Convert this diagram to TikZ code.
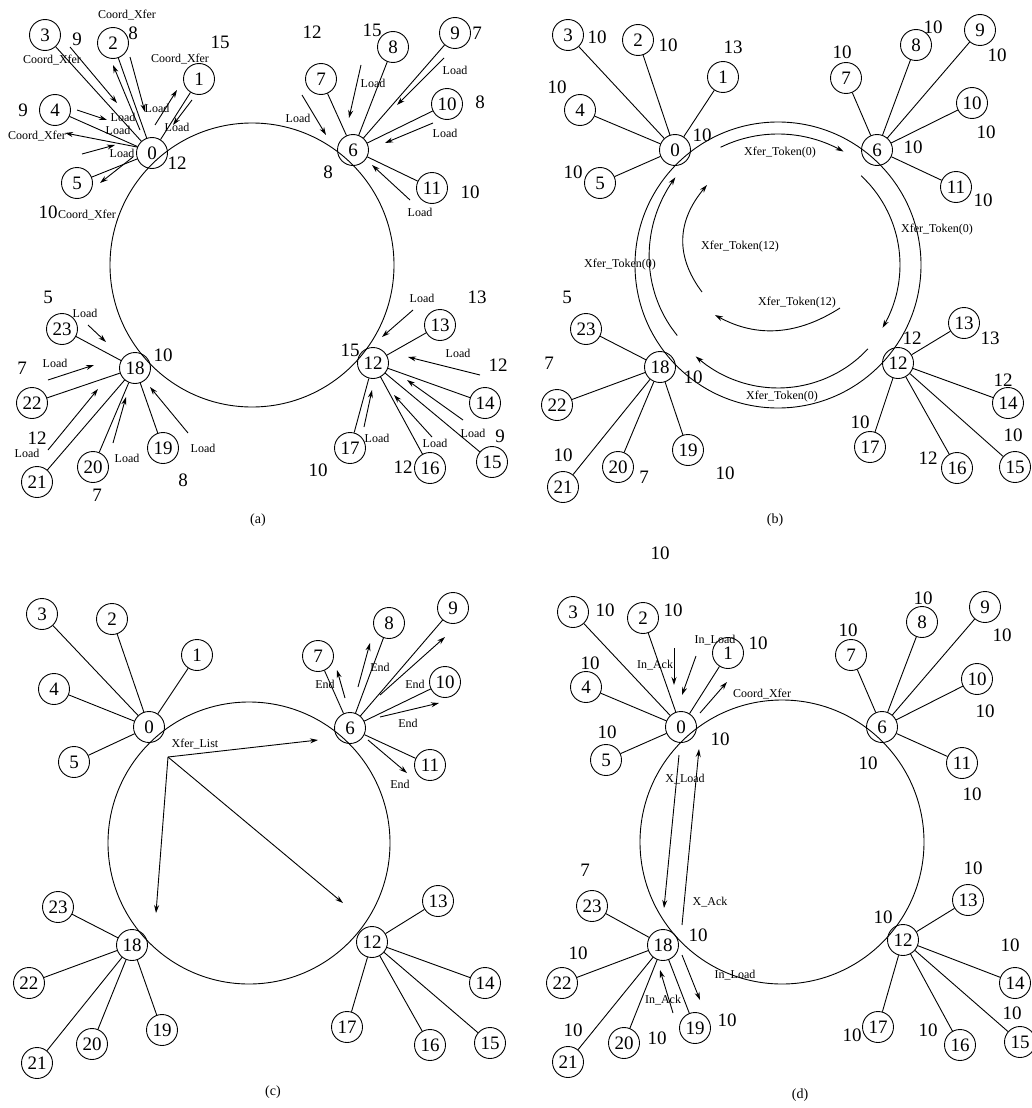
\documentclass[tikz,border=0pt]{standalone}
\usepackage{fontspec}
\setmainfont{Liberation Serif}
\usetikzlibrary{arrows.meta}
\newcommand\fsBig{\fontsize{19}{19}\selectfont}
\newcommand\fsSmall{\fontsize{12}{12}\selectfont}
\newcommand\fsCap{\fontsize{14}{14}\selectfont}
\newcommand\spokes[1]{%
 \foreach \s in {1,...,5}{\draw (#10) -- (#1\s);}%
 \foreach \s in {7,...,11}{\draw (#16) -- (#1\s);}%
 \foreach \s in {13,...,17}{\draw (#112) -- (#1\s);}%
 \foreach \s in {19,...,23}{\draw (#118) -- (#1\s);}}
\newcommand\msg[3]{\coordinate (#1s) at (#2); \coordinate (#1e) at (#3); \draw[msg] (#1s) -- (#1e);}
\begin{document}
\begin{tikzpicture}[x=1pt,y=-1pt,line width=0.9pt,
 pn/.style={circle,draw,minimum size=31pt,inner sep=0pt,font=\fsBig},
 num/.style={inner sep=0pt,font=\fsBig},
 lbl/.style={inner sep=0pt,font=\fsSmall},
 captxt/.style={inner sep=0pt,font=\fsCap},
 msg/.style={-{Stealth[length=8pt,width=5pt]}}]
\useasboundingbox (0,0) rectangle (1032,1108);

% ---------------- rings
\draw (252,265) circle[radius=142];
\draw (778,265) circle[radius=143];
\draw (249,843) circle[radius=141];
\draw (782,842) circle[radius=142];

% ---------------- nodes
\foreach \n/\x/\y in {0/152/153, 1/199/79, 2/113/43, 3/45/35, 4/55/110, 5/77/183, 6/353/150, 7/321/79, 8/393/47, 9/455/33, 10/447/104, 11/432/188, 12/373/363, 13/440/325, 14/485/403, 15/492/462, 16/430/468, 17/350/448, 18/135/368, 19/163/448, 20/93/467, 21/37/482, 22/32/403, 23/62/329}
  \node[pn] (a\n) at (\x,\y) {\n};
\foreach \n/\x/\y in {0/675/150, 1/723/77, 2/638/40, 3/568/35, 4/580/110, 5/600/183, 6/877/150, 7/846/78, 8/916/45, 9/980/30, 10/972/103, 11/956/187, 12/898/363, 13/964/323, 14/1008/403, 15/1015/467, 16/957/468, 17/870/447, 18/660/367, 19/688/450, 20/618/467, 21/563/487, 22/557/405, 23/586/329}
  \node[pn] (b\n) at (\x,\y) {\n};
\foreach \n/\x/\y in {0/149/727, 1/197/655, 2/112/619, 3/42/614, 4/54/689, 5/74/762, 6/350/728, 7/318/656, 8/389/623, 9/453/608, 10/445/682, 11/430/765, 12/372/942, 13/438/901, 14/485/983, 15/490/1043, 16/430/1045, 17/347/1027, 18/132/945, 19/162/1030, 20/92/1044, 21/37/1063, 22/29/983, 23/58/907}
  \node[pn] (c\n) at (\x,\y) {\n};
\foreach \n/\x/\y in {0/681/727, 1/728/653, 2/643/618, 3/573/612, 4/586/687, 5/606/760, 6/882/727, 7/851/655, 8/922/622, 9/985/607, 10/977/679, 11/962/763, 12/903/940, 13/968/900, 14/1015/983, 15/1020/1042, 16/960/1045, 17/878/1027, 18/663/945, 19/695/1028, 20/624/1043, 21/568/1062, 22/562/983, 23/592/906}
  \node[pn] (d\n) at (\x,\y) {\n};

\spokes{a}
\spokes{b}
\spokes{c}
\spokes{d}

% ---------------- big number labels
\foreach \x/\y/\t [count=\i] in {133/33/8, 77/39/9, 220/42/15, 23/110/9, 177/163/12, 48/212/10, 312/32/12, 372/30/15, 477/33/7, 480/102/8, 328/172/8, 470/192/10, 48/297/5, 163/355/10, 22/368/7, 37/438/12, 183/480/8, 97/495/7, 477/297/13, 350/350/15, 498/365/12, 500/436/9, 403/467/12, 318/470/10}
  \node[num] (an\i) at (\x,\y) {\t};
\foreach \x/\y/\t [count=\i] in {597/37/10, 668/45/10, 733/47/13, 557/87/10, 702/135/10, 573/172/10, 933/27/10, 842/52/10, 997/55/10, 986/132/10, 913/147/10, 983/200/10, 567/297/5, 549/363/7, 693/377/10, 563/455/10, 644/477/7, 725/473/10, 990/338/13, 912/338/12, 1003/380/12, 860/422/10, 1013/435/10, 928/458/12, 660/553/10}
  \node[num] (bn\i) at (\x,\y) {\t};
\foreach \x/\y/\t [count=\i] in {605/610/10, 673/610/10, 758/643/10, 590/663/10, 607/732/10, 720/739/10, 848/630/10, 923/598/10, 1002/635/10, 985/711/10, 868/763/10, 972/794/10, 585/870/7, 698/935/10, 578/953/10, 727/1020/10, 573/1030/10, 657/1038/10, 973/868/10, 883/917/10, 1010/945/10, 1012/1013/10, 852/1035/10, 928/1030/10}
  \node[num] (dn\i) at (\x,\y) {\t};

% ---------------- small labels
\foreach \x/\y/\t [count=\i] in {127/15/Coord\_Xfer, 52/60/Coord\_Xfer, 180/59/Coord\_Xfer, 37/136/Coord\_Xfer, 87/215/Coord\_Xfer, 123/117/Load, 157/108/Load, 177/127/Load, 118/130/Load, 122/153/Load, 373/83/Load, 455/70/Load, 298/118/Load, 445/133/Load, 420/212/Load, 85/313/Load, 55/363/Load, 27/453/Load, 127/458/Load, 203/448/Load, 422/298/Load, 458/353/Load, 473/433/Load, 377/438/Load, 435/443/Load}
  \node[lbl] (al\i) at (\x,\y) {\t};
\foreach \x/\y/\t [count=\i] in {780/153/Xfer\_Token(0), 937/230/Xfer\_Token(0), 782/397/Xfer\_Token(0), 620/265/Xfer\_Token(0), 740/247/Xfer\_Token(12), 797/303/Xfer\_Token(12)}
  \node[lbl] (bl\i) at (\x,\y) {\t};
\foreach \x/\y/\t [count=\i] in {325/684/End, 380/667/End, 415/684/End, 408/723/End, 400/784/End, 195/744/Xfer\_List}
  \node[lbl] (cl\i) at (\x,\y) {\t};
\foreach \x/\y/\t [count=\i] in {715/640/In\_Load, 655/665/In\_Ack, 762/694/Coord\_Xfer, 685/779/X\_Load, 710/902/X\_Ack, 735/975/In\_Load, 663/1000/In\_Ack}
  \node[lbl] (dl\i) at (\x,\y) {\t};

% ---------------- captions
\node[captxt] (capa) at (258,520) {(a)};
\node[captxt] (capb) at (775,520) {(b)};
\node[captxt] (capc) at (273,1092) {(c)};
\node[captxt] (capd) at (800,1095) {(d)};

% ---------------- message arrows panel (a)
\msg{am1}{70,47}{117,103}
\msg{am2}{140,130}{113,65}
\msg{am3}{130,57}{145,112}
\msg{am4}{155,125}{177,90}
\msg{am5}{192,100}{173,125}
\msg{am6}{77,110}{107,120}
\msg{am7}{137,147}{65,133}
\msg{am8}{82,154}{115,145}
\msg{am9}{133,157}{100,183}
\msg{am10}{302,95}{326,135}
\msg{am11}{361,65}{349,118}
\msg{am12}{444,58}{397,105}
\msg{am13}{433,123}{385,143}
\msg{am14}{410,200}{372,165}
\msg{am15}{88,325}{106,342}
\msg{am16}{48,380}{94,365}
\msg{am17}{48,450}{98,389}
\msg{am18}{113,443}{126,397}
\msg{am19}{188,433}{150,387}
\msg{am20}{413,310}{382,337}
\msg{am21}{480,375}{408,357}
\msg{am22}{463,420}{407,380}
\msg{am23}{432,437}{394,395}
\msg{am24}{364,427}{372,390}

% ---------------- token arcs panel (b)
\draw[msg] plot[smooth,variable=\t,domain=116:60,samples=15] ({778+131*cos(\t)},{265-131*sin(\t)});
\draw[msg] plot[smooth,variable=\t,domain=47:-31,samples=15] ({778+122*cos(\t)},{265-122*sin(\t)});
\draw[msg] plot[smooth,variable=\t,domain=-43:-132,samples=15] ({778+123*cos(\t)},{265-123*sin(\t)});
\draw[msg] plot[smooth,variable=\t,domain=215:139.5,samples=15] ({778+(123+(215-\t)*0.159)*cos(\t)},{265-(123+(215-\t)*0.159)*sin(\t)});
\coordinate (bi1s) at (702,292); \coordinate (bi1e) at (707,185);
\draw[msg] (bi1s) .. controls (675,256) and (677,221) .. (bi1e);
\coordinate (bi2s) at (840,308); \coordinate (bi2e) at (715,315);
\draw[msg] (bi2s) .. controls (798,335) and (757,338) .. (bi2e);

% ---------------- message arrows panel (c)
\msg{cm1}{345,698}{337,670}
\msg{cm2}{358,687}{370,643}
\msg{cm3}{380,695}{445,637}
\msg{cm4}{380,717}{439,703}
\msg{cm5}{368,740}{407,773}
\coordinate (xl) at (168,757);
\coordinate (xl6) at (318,740);
\coordinate (xl18) at (156,913);
\coordinate (xl12) at (343,903);
\draw[msg] (xl) -- (xl6);
\draw[msg] (xl) -- (xl18);
\draw[msg] (xl) -- (xl12);

% ---------------- message arrows panel (d)
\msg{dm1}{674,648}{674,685}
\msg{dm2}{696,656}{682,695}
\msg{dm3}{700,713}{727,682}
\msg{dm4}{679,755}{664,908}
\msg{dm5}{682,925}{699,749}
\msg{dm6}{673,1013}{660,970}
\msg{dm7}{682,955}{700,1000}
\end{tikzpicture}
\end{document}
